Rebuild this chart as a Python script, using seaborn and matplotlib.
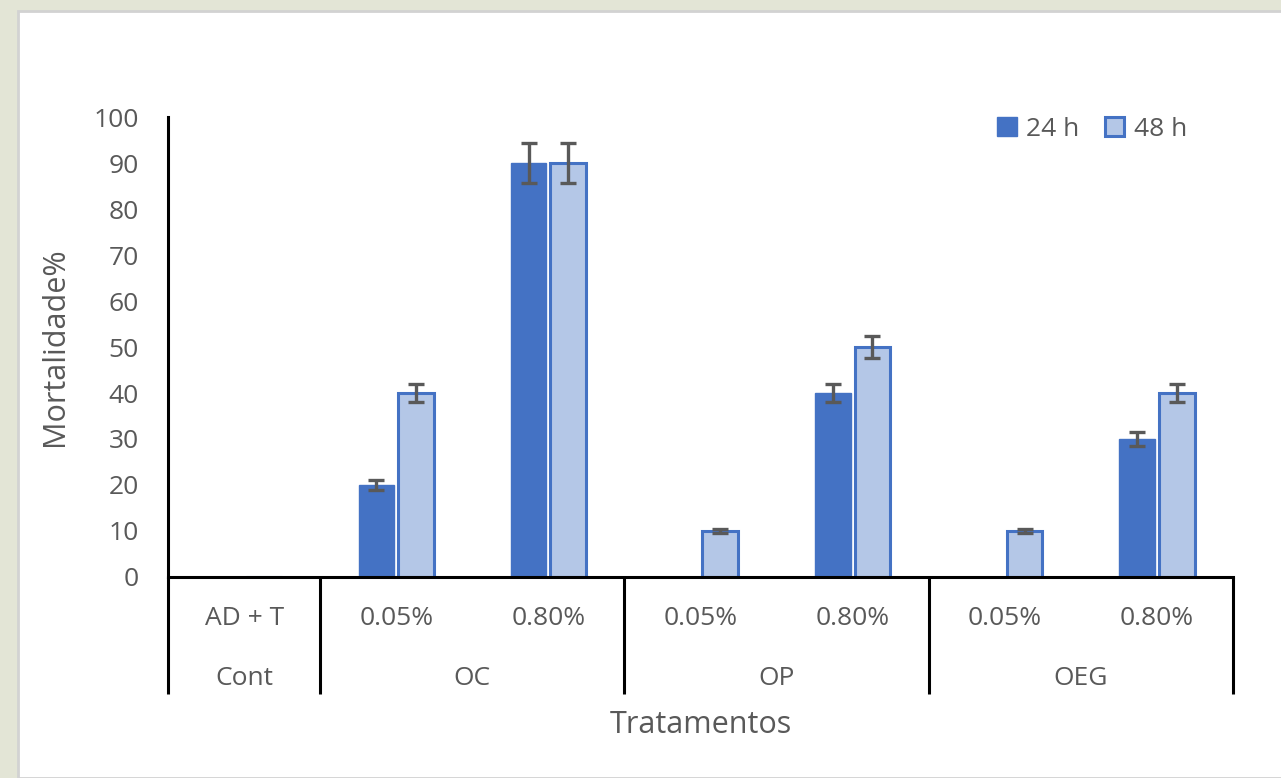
import matplotlib
matplotlib.use("Agg")
import matplotlib.pyplot as plt
import matplotlib.transforms as mtransforms
from matplotlib.patches import Patch, Rectangle
import numpy as np
import pandas as pd
import seaborn as sns

# Treatments (group + dose) and mortality by exposure time
groups = ["Cont", "OC", "OC", "OP", "OP", "OEG", "OEG"]
doses = ["AD + T", "0.05%", "0.80%", "0.05%", "0.80%", "0.05%", "0.80%"]
mort_24h = [0, 20, 90, 0, 40, 0, 30]
mort_48h = [0, 40, 90, 10, 50, 10, 40]
err_24h = [0, 1.0, 4.3, 0, 2.0, 0, 1.6]
err_48h = [0, 2.0, 4.3, 0.5, 2.4, 0.5, 2.0]
series = ["24 h", "48 h"]
yticks = [0, 10, 20, 30, 40, 50, 60, 70, 80, 90, 100]

keys = [f"{g} {d}" for g, d in zip(groups, doses)]
df = pd.DataFrame({
    "trat": keys * 2,
    "tempo": [series[0]] * len(keys) + [series[1]] * len(keys),
    "mort": mort_24h + mort_48h,
})

sns.set_style("white")
plt.rcParams["font.family"] = ["Open Sans", "DejaVu Sans"]

DARK = "#4472C4"
LIGHT = "#B4C7E7"
TXT = "#595959"
FS = 19      # tick / category labels
FS_T = 22    # axis titles
FS_L = 19    # legend

fig = plt.figure(figsize=(12.81, 7.78), dpi=100)
fig.patch.set_facecolor("#e3e5d6")
# white panel behind the chart
fig.patches.append(Rectangle((18 / 1281, 0), 1, (778 - 11) / 778,
                             transform=fig.transFigure, facecolor="white",
                             edgecolor="#d2d2d2", linewidth=2, zorder=-5))
ax = fig.add_axes([168 / 1281, (778 - 577) / 778, (1233 - 168) / 1281, 460 / 778])
ax.set_facecolor("none")

sns.barplot(data=df, x="trat", y="mort", hue="tempo", order=keys,
            hue_order=series, palette=[DARK, LIGHT], width=0.52, gap=0.1,
            saturation=1, errorbar=None, ax=ax, legend=False)

# outline styling per series
for bar in ax.containers[0]:
    bar.set_edgecolor(DARK)
    bar.set_linewidth(1.0)
for bar in ax.containers[1]:
    bar.set_edgecolor(DARK)
    bar.set_linewidth(2.2)

# error bars at bar centres
for cont, vals, errs in zip(ax.containers, [mort_24h, mort_48h], [err_24h, err_48h]):
    xs = np.array([b.get_x() + b.get_width() / 2 for b in cont])
    v = np.array(vals, dtype=float)
    e = np.array(errs, dtype=float)
    m = v > 0
    ax.errorbar(xs[m], v[m], yerr=e[m], fmt="none", ecolor=TXT,
                elinewidth=2.4, capsize=5.8, capthick=2.4, zorder=5)

ax.set_xlim(-0.5, len(keys) - 0.5)
ax.set_ylim(0, 100)
ax.set_yticks(yticks)
ax.set_yticklabels([str(t) for t in yticks])
ax.set_xticks(range(len(keys)))
ax.set_xticklabels(doses)
ax.tick_params(axis="y", length=0, pad=21, labelsize=FS, labelcolor=TXT)
ax.tick_params(axis="x", length=0, pad=21, labelsize=FS, labelcolor=TXT)

for s in ["top", "right"]:
    ax.spines[s].set_visible(False)
for s in ["left", "bottom"]:
    ax.spines[s].set_color("black")
    ax.spines[s].set_linewidth(2.2)

# group separators and group labels below the dose labels
trans = mtransforms.blended_transform_factory(ax.transData, ax.transAxes)
bounds = [-0.5]
for i in range(1, len(groups)):
    if groups[i] != groups[i - 1]:
        bounds.append(i - 0.5)
bounds.append(len(groups) - 0.5)
for b in bounds:
    ax.plot([b, b], [0, -0.255], transform=trans, color="black",
            linewidth=2.2, clip_on=False, solid_capstyle="butt")

seen = []
for g in groups:
    if g not in seen:
        seen.append(g)
for g in seen:
    idx = [i for i, gg in enumerate(groups) if gg == g]
    ax.text(np.mean(idx), -0.22, g, transform=trans, ha="center",
            va="center", fontsize=FS, color=TXT)

ax.set_xlabel("")
ax.text(0.5, -0.322, "Tratamentos", transform=ax.transAxes, ha="center",
        va="center", fontsize=FS_T, color=TXT)
ax.set_ylabel("Mortalidade%", fontsize=FS_T, color=TXT)
ax.yaxis.set_label_coords(-0.092, 0.5)

handles = [Patch(facecolor=DARK, edgecolor=DARK, linewidth=1),
           Patch(facecolor=LIGHT, edgecolor=DARK, linewidth=2.2)]
leg = ax.legend(handles, series, loc="upper right", bbox_to_anchor=(0.979, 1.052),
                ncol=2, frameon=False, fontsize=FS_L, handlelength=0.75,
                handleheight=0.75, handletextpad=0.35, columnspacing=0.95)
for t in leg.get_texts():
    t.set_color(TXT)

fig.savefig("out.png", dpi=100, facecolor=fig.get_facecolor())
